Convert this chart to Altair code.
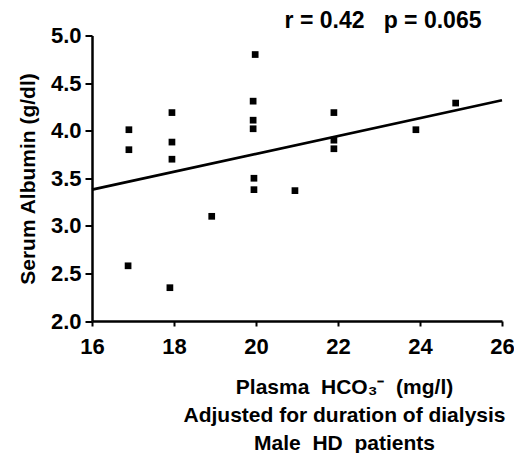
import altair as alt
import pandas as pd

# Scatter data
hco3 = [16.9, 16.9, 16.88, 17.95, 17.95, 17.95, 17.9, 18.92, 19.98, 19.93,
        19.93, 19.93, 19.95, 19.95, 20.95, 21.9, 21.9, 21.9, 23.9, 24.87]
albumin = [4.01, 3.80, 2.58, 4.19, 3.88, 3.70, 2.35, 3.10, 4.80, 4.31,
           4.11, 4.02, 3.50, 3.38, 3.37, 4.19, 3.90, 3.81, 4.01, 4.29]

# Regression line end points
fit_x = [16, 26]
fit_y = [3.38, 4.32]

x_ticks = [16, 18, 20, 22, 24, 26]
y_ticks = [2.0, 2.5, 3.0, 3.5, 4.0, 4.5, 5.0]

NB = "\u00a0"
annotation = "r = 0.42" + NB * 2 + " p = 0.065"
x_title = [
    "Plasma" + NB + " HCO\u2083\u207b" + NB + " (mg/l)" + NB * 4,
    "Adjusted for duration of dialysis",
    "Male" + NB + " HD" + NB + " patients",
]
y_title = "Serum Albumin (g/dl)"

FONT = "Liberation Sans"

pts = pd.DataFrame({"x": hco3, "y": albumin})
fit = pd.DataFrame({"x": fit_x, "y": fit_y})

x_scale = alt.Scale(domain=[16, 26], nice=False, zero=False)
y_scale = alt.Scale(domain=[2.0, 5.0], nice=False, zero=False)

x_axis = alt.Axis(
    values=x_ticks, format="d", title=x_title, labelFlush=False,
    domainColor="black", domainWidth=2.5, tickColor="black", tickWidth=2, tickSize=5,
    labelFont=FONT, labelFontSize=22, labelFontWeight="bold", labelColor="black",
    labelPadding=10, grid=False,
    titleFont=FONT, titleFontSize=21, titleFontWeight="bold", titleColor="black",
    titleX=252, titleY=55, titleAlign="center", titleBaseline="top", titleLineHeight=28,
)
y_axis = alt.Axis(
    values=y_ticks, format=".1f", title=y_title, labelFlush=False,
    domainColor="black", domainWidth=2.5, tickColor="black", tickWidth=2, tickSize=7,
    labelFont=FONT, labelFontSize=22, labelFontWeight="bold", labelColor="black",
    labelPadding=4, grid=False,
    titleFont=FONT, titleFontSize=21, titleFontWeight="bold", titleColor="black",
    titleX=-64, titleY=143, titleAlign="center", titleBaseline="middle", titleAngle=270,
)

points = alt.Chart(pts).mark_square(size=45, color="black", opacity=1).encode(
    x=alt.X("x:Q", scale=x_scale, axis=x_axis),
    y=alt.Y("y:Q", scale=y_scale, axis=y_axis),
)

line = alt.Chart(fit).mark_line(color="black", strokeWidth=2.7).encode(
    x=alt.X("x:Q", scale=x_scale),
    y=alt.Y("y:Q", scale=y_scale),
)

text = alt.Chart(pd.DataFrame({"t": [annotation]})).mark_text(
    font=FONT, fontSize=23, fontWeight="bold", color="black",
    align="center", baseline="alphabetic",
).encode(text="t:N", x=alt.value(291), y=alt.value(-8))

chart = alt.layer(line, points, text).properties(
    width=410, height=285.5,
    autosize=alt.AutoSizeParams(type="none"),
    padding={"left": 84, "top": 27.5, "right": 12, "bottom": 132},
).configure_view(stroke=None)

chart.save("out.html", embed_options={"renderer": "svg", "actions": False})
